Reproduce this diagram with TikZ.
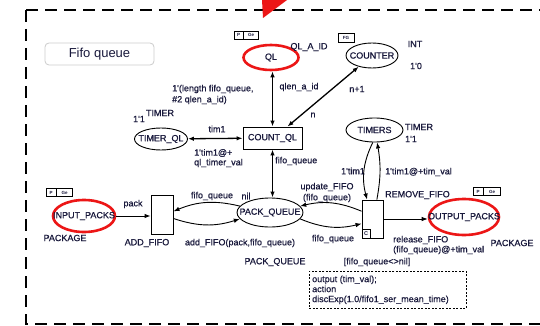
\documentclass[tikz,border=0pt]{standalone}
\usepackage{fontspec}
\setmainfont{Liberation Sans}
\newfontfamily\lblfont{Liberation Sans}[UprightFeatures={FakeBold=0.6}]
\usetikzlibrary{arrows.meta,shapes.geometric,calc}
\definecolor{txt}{RGB}{25,25,60}
\definecolor{cpnred}{RGB}{236,22,22}
\begin{document}
\begin{tikzpicture}[x=1pt,y=-1pt,
  lbl/.style={inner sep=0pt,text=txt,font=\lblfont\fontsize{9}{10}\selectfont},
  lblw/.style={lbl,anchor=west},
  place/.style={ellipse,draw,line width=0.9pt,inner sep=0pt},
  redplace/.style={ellipse,draw=cpnred,line width=2.6pt,inner sep=0pt},
  trans/.style={rectangle,draw,line width=0.9pt,inner sep=0pt},
  arc/.style={line width=0.9pt,-{Latex[length=6pt,width=4.5pt]}},
  dbl/.style={line width=1.3pt,{Latex[length=6pt,width=4.5pt]}-{Latex[length=6pt,width=4.5pt]}},
  tag/.style={draw,line width=0.5pt,inner sep=0pt,minimum height=8pt,font=\fontsize{4.5}{5}\selectfont\bfseries,text=txt}
]
\useasboundingbox (0,0) rectangle (540,326);
\fill[white] (0,0) rectangle (540,326);
% border
\draw[line width=1.8pt,dash pattern=on 12pt off 7pt] (26,10) -- (26,324) -- (560,324);
\draw[line width=1.8pt,dash pattern=on 12pt off 7pt] (26,10) -- (560,10);
\fill[cpnred] (262,0) -- (287,0) -- (263,18) -- cycle;

% title
\node[draw=gray!40,rounded corners=4pt,line width=0.8pt,minimum width=109pt,minimum height=22pt,
  font=\fontsize{13}{14}\selectfont,text=txt] (title) at (99.5,54) {Fifo queue};

% places
\node[redplace,minimum width=55pt,minimum height=25pt] (ql) at (271,57.5) {};
\node[lbl] at (ql) {QL};
\node[place,minimum width=52pt,minimum height=25pt] (ctr) at (372,55.5) {};
\node[lbl] at (ctr) {COUNTER};
\node[place,minimum width=53pt,minimum height=22pt] (tq) at (161,139) {};
\node[lbl] at (tq) {TIMER\_QL};
\node[place,minimum width=57pt,minimum height=24pt] (tm) at (374.5,130) {};
\node[lbl] at (tm) {TIMERS};
\node[place,minimum width=66pt,minimum height=29pt] (pq) at (270,212.5) {};
\node[lbl] at (pq) {PACK\_QUEUE};
\node[redplace,minimum width=62pt,minimum height=32pt] (ip) at (84,216) {};
\node[lbl] at (ip) {INPUT\_PACKS};
\node[redplace,minimum width=70pt,minimum height=36pt] (op) at (464,217) {};
\node[lbl] at (op) {OUTPUT\_PACKS};

% transitions
\node[trans,minimum width=59pt,minimum height=22pt,text=txt,font=\lblfont\fontsize{9}{10}\selectfont] (cq) at (272.5,138) {COUNT\_QL};
\node[trans,minimum width=22pt,minimum height=39pt] (af) at (162,214.5) {};
\node[trans,minimum width=21pt,minimum height=38pt] (rf) at (372.5,219) {};
\node[draw,line width=0.6pt,minimum size=8.5pt,inner sep=0pt,anchor=south west,
  font=\fontsize{5.5}{6}\selectfont\bfseries,text=txt] (rfc) at (rf.south west) {C};

% tags
\node[tag,minimum width=9pt] (qlp) at (238.5,35) {P};
\node[tag,minimum width=15pt,anchor=west] (qlg) at (qlp.east) {Ge};
\node[tag,minimum width=16pt,minimum height=9pt] (fg) at (346,38) {FG};
\node[tag,minimum width=10pt] (ipp) at (51,192.5) {P};
\node[tag,minimum width=16pt,anchor=west] (ipg) at (ipp.east) {Ge};
\node[tag,minimum width=10pt] (opp) at (478,191.5) {P};
\node[tag,minimum width=17pt,anchor=west] (opg) at (opp.east) {Ge};

% connectors
\draw[dbl] (cq.north) -- (cq.north |- ql.south);
\draw[dbl] ([xshift=-15pt]cq.north east) -- (ctr);
\draw[dbl] (tq) -- (cq);
\draw[dbl] (cq.south) -- (cq.south |- pq.north);
\draw[arc] (ip) -- (ip -| af.west);
\draw[arc] (pq.168) to[bend right=18] ($(af.north east)!0.42!(af.south east)$);
\draw[arc] ($(af.north east)!0.6!(af.south east)$) to[bend right=18] (pq.192);
\draw[arc] ($(rf.north west)!0.3!(rf.south west)$) to[bend right=18] (pq.12);
\draw[arc] (pq.-12) to[bend right=18] ($(rf.north west)!0.62!(rf.south west)$);
\draw[arc] (tm.262) to[bend right=20] ($(rf.north west)!0.25!(rf.north east)$);
\draw[arc] ($(rf.north west)!0.7!(rf.north east)$) to[bend right=10] (tm.282);
\draw[arc] (rf.east) -- (rf.east -| op.west);

% labels
\node[lbl] at (309,47) {QL\_A\_ID};
\node[lbl] at (415,44) {INT};
\node[lbl] at (416,66) {1'0};
\node[lbl] at (357,89) {n+1};
\node[lbl] at (299,87) {qlen\_a\_id};
\node[lblw] at (172,89) {1'(length fifo\_queue,};
\node[lblw] at (172,100) {\#2 qlen\_a\_id)};
\node[lbl] at (313,115) {n};
\node[lbl] at (160,113) {TIMER};
\node[lbl] at (139,119) {1'1};
\node[lbl] at (217,129) {tim1};
\node[lblw] at (194,153) {1'tim1@+};
\node[lblw] at (194,163) {ql\_timer\_val};
\node[lblw] at (275,161) {fifo\_queue};
\node[lbl] at (419,127) {TIMER};
\node[lbl] at (411,139) {1'1};
\node[lbl] at (353,171) {1'tim1};
\node[lblw] at (385,172) {1'tim1@+tim\_val};
\node[lblw] at (385,195) {REMOVE\_FIFO};
\node[lbl] at (327,187) {update\_FIFO};
\node[lbl] at (327,198) {(fifo\_queue)};
\node[lbl] at (212,196) {fifo\_queue};
\node[lbl] at (246,196) {nil};
\node[lbl] at (133,204) {pack};
\node[lbl] at (65,238) {PACKAGE};
\node[lbl] at (147,243) {ADD\_FIFO};
\node[lbl] at (240,243) {add\_FIFO(pack,fifo\_queue)};
\node[lbl] at (333,239) {fifo\_queue};
\node[lbl] at (275,262) {PACK\_QUEUE};
\node[lbl] at (377,262) {[fifo\_queue<>nil]};
\node[lblw] at (393,240) {release\_FIFO};
\node[lblw] at (393,250) {(fifo\_queue)@+tim\_val};
\node[lbl] at (512,243) {PACKAGE};

% code region
\node[draw,line width=0.6pt,dash pattern=on 2pt off 1.5pt,minimum width=157pt,minimum height=37pt,
  inner sep=0pt,anchor=north west] (code) at (309,271) {};
\node[lbl,anchor=west,align=left] at ([xshift=3pt]code.west) {output (tim\_val);\\action\\discExp(1.0/fifo1\_ser\_mean\_time)};
\end{tikzpicture}
\end{document}
